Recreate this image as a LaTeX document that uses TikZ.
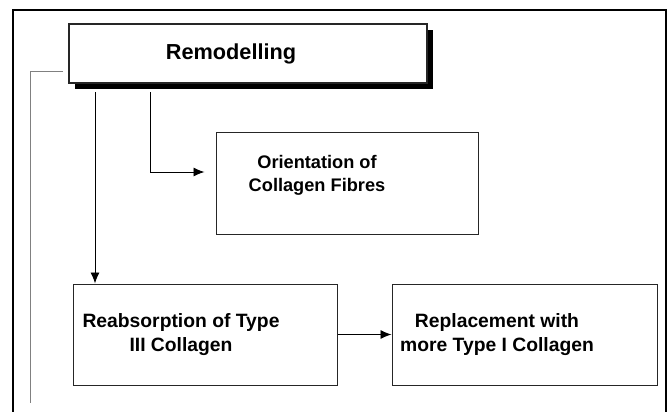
\documentclass[tikz,border=0pt]{standalone}
\usepackage{fontspec}
\setmainfont{Liberation Sans}
\usetikzlibrary{arrows.meta,positioning,shadows}
\begin{document}
\begin{tikzpicture}[x=1pt,y=-1pt,
  box/.style={draw=black!85,line width=1pt,fill=white,inner sep=0pt},
  lbl/.style={font=\bfseries\fontsize{19.3}{24}\selectfont,align=center},
  link/.style={->,>={Latex[length=11pt,width=9pt]},line width=0.9pt}]
\useasboundingbox (0,0) rectangle (672,412);
\draw[line width=1.5pt](13,412)|-(666,10)--(666,412);
\node[box,line width=1.3pt,minimum width=358pt,minimum height=59pt,
  general shadow={shadow xshift=6pt,shadow yshift=-6pt,fill=black}] (remod) at(248,53.5) {};
\node[font=\bfseries\fontsize{21.7}{24}\selectfont] (remodT) at(231,54) {Remodelling};
\node[box,minimum width=262pt,minimum height=102pt] (orient) at(347,183) {};
\node[lbl,font=\bfseries\fontsize{18.2}{23}\selectfont] (orientT) at(317,175) {Orientation of\\Collagen Fibres};
\node[box,minimum width=264pt,minimum height=101pt] (reab) at(205,334.5) {};
\node[lbl] (reabT) at(181,335) {Reabsorption of Type\\III Collagen};
\node[box,minimum width=265pt,minimum height=101pt] (repl) at(524.5,334.5) {};
\node[lbl] (replT) at(497,335) {Replacement with\\more Type I Collagen};
\coordinate (r1) at(95,92);
\coordinate (r2) at(150,92);
\coordinate (g0) at(63,71);
\coordinate (g1) at(30,403);
\draw[link](r1)--(r1|-reab.north);
\draw[link](r2)|-([xshift=-11pt,yshift=11pt]orient.west);
\draw[link](reab.east)--(repl.west);
\draw[gray,line width=0.9pt](g0)-|(g1);
\end{tikzpicture}
\end{document}
